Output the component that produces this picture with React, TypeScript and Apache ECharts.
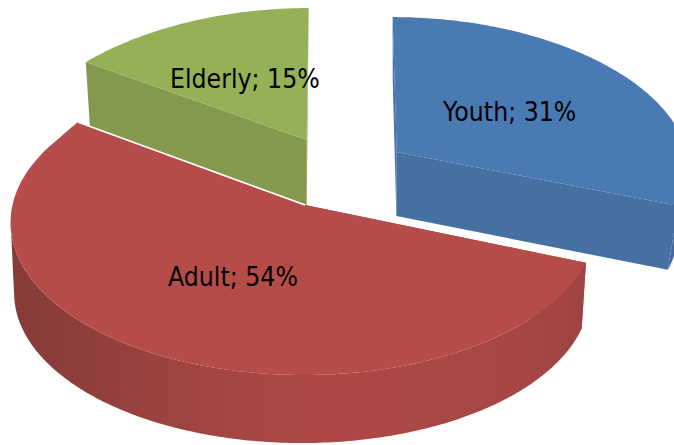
import React, { useEffect, useRef } from "react";
import * as echarts from "echarts";

const categories = ["Youth", "Adult", "Elderly"];
const shares = [31, 54, 15];

// projection of each exploded slice: top face and bottom face
type Face = {
  cx: number; cy: number; R: number; ry: number; k: number; kx: number; s: number;
  ax?: number; phase?: number; boost?: number; boostEnd?: number;
};
const topFaces: Face[] = [
  { cx: 396.7, cy: 152, R: 290, ry: 143, k: 0.06, kx: 0.1, s: -4.5 },
  { cx: 303.5, ax: 305, cy: 205, R: 291, ry: 150.6, k: 0.114, kx: 0.114, s: 0, boost: 0.023, boostEnd: 306 },
  { cx: 306.7, cy: 140, R: 293, ry: 133.6, k: 0.0125, kx: 0.114, s: 2.2 },
];
const bottomFaces: Face[] = [
  { cx: 396.4, cy: 216, R: 279.6, ry: 143, k: 0.06, kx: 0.1, s: -4 },
  { cx: 302, cy: 276, R: 286, ry: 148, k: 0.114, kx: 0.114, s: 0, phase: -1.6 },
  { cx: 306.7, cy: 205, R: 287, ry: 135, k: 0.0125, kx: 0.114, s: 1.5 },
];
const topColors = ["#4a7ab4", "#b64c49", "#95b158"];
const wallColors = ["#466fa2", "#a04441", "#84994e"];
// visible stretch of each slice's curved wall, in degrees clockwise from the top
const outerWallFrom = [84, 111.6, 0];
const outerWallTo = [111.6, 264, 0];
const redWallX = [12, 100, 200, 300, 400, 520, 585];
const redWallColors = ["#853b39", "#923f3d", "#a04442", "#ab4846", "#ab4846", "#a64644", "#9e4341"];
const blueOuterWall = "#44699a";
const labelPos = [
  { x: 443, y: 112 },
  { x: 168, y: 277 },
  { x: 170, y: 79 },
];
const labelScaleX = 0.912;

const proj = (f: Face, deg: number): number[] => {
  const t = ((deg + (f.phase || 0)) * Math.PI) / 180;
  const X = Math.sin(t);
  const Y = Math.cos(t);
  const near = f.boost ? Math.max(0, 1 - Math.abs((f.boostEnd as number) - deg) / 10) : 0;
  const R = f.R * (1 + (f.boost || 0) * near * near);
  return [f.cx + (R * X + f.s * Y) / (1 + f.kx * Y), f.cy - (f.ry * Y) / (1 + f.k * Y)];
};

const renderItem = (_p: any, api: any) => {
  const i = api.value(0);
  const before = shares.slice(0, i).reduce((a, b) => a + b, 0);
  const a0 = (before / 100) * 360;
  const a1 = ((before + api.value(1)) / 100) * 360;
  const top = topFaces[i];
  const bot = bottomFaces[i];
  const apex = [top.ax ?? top.cx, top.cy];
  const children: any[] = [];
  const poly = (points: number[][], fill: any) => ({
    type: "polygon",
    shape: { points },
    style: { fill },
    silent: true,
  });
  // radial walls
  for (const a of [a0, a1]) {
    children.push(poly([apex, proj(top, a), proj(bot, a), [bot.cx, bot.cy]], wallColors[i]));
  }
  // outer wall
  const w0 = outerWallFrom[i];
  const w1 = outerWallTo[i];
  if (w1 > w0) {
    const pts: number[][] = [];
    for (let c = w0; c < w1; c += 0.75) pts.push(proj(top, c));
    pts.push(proj(top, w1), proj(bot, w1));
    for (let c = w1; c > w0; c -= 0.75) pts.push(proj(bot, c));
    pts.push(proj(bot, w0));
    const x0 = redWallX[0];
    const x1 = redWallX[redWallX.length - 1];
    const fill =
      i === 1
        ? new echarts.graphic.LinearGradient(
            x0,
            0,
            x1,
            0,
            redWallX.map((x, j) => ({ offset: (x - x0) / (x1 - x0), color: redWallColors[j] })),
            true,
          )
        : blueOuterWall;
    children.push(poly(pts, fill));
  }
  // top face
  const face: number[][] = [apex];
  for (let a = a0; a < a1; a += 0.75) face.push(proj(top, a));
  face.push(proj(top, a1));
  children.push(poly(face, topColors[i]));
  if (i === 1) {
    children.push({
      type: "polyline",
      shape: { points: [proj(top, a1), apex] },
      style: { stroke: "#ffffff", lineWidth: 1.6, fill: "none" },
      silent: true,
    });
  }
  return { type: "group", children };
};

const renderLabel = (_p: any, api: any) => {
  const i = api.value(0);
  const p = labelPos[i];
  return {
    type: "text",
    x: p.x,
    y: p.y,
    scaleX: labelScaleX,
    silent: true,
    style: {
      text: `${categories[i]}; ${api.value(1)}%`,
      fontFamily: "DejaVu Sans",
      fontSize: 26,
      fill: "#000000",
      textAlign: "left",
      textVerticalAlign: "middle",
    },
  };
};

// paint order: back slices first, the front slice last
const order = [2, 0, 1];

export default function App() {
  const ref = useRef<HTMLDivElement>(null);
  useEffect(() => {
    const chart = echarts.init(ref.current!, undefined, { renderer: "svg" });
    chart.setOption({
      animation: false,
      backgroundColor: "#ffffff",
      series: [
        {
          type: "custom",
          coordinateSystem: "none",
          clip: false,
          silent: true,
          renderItem,
          data: order.map((i) => [i, shares[i]]),
        },
        {
          type: "custom",
          coordinateSystem: "none",
          silent: true,
          renderItem: renderLabel,
          data: order.map((i) => [i, shares[i]]),
        },
      ],
    });
    return () => chart.dispose();
  }, []);
  return <div ref={ref} style={{ position: "fixed", left: 0, top: 0, width: 674, height: 445 }} />;
}
